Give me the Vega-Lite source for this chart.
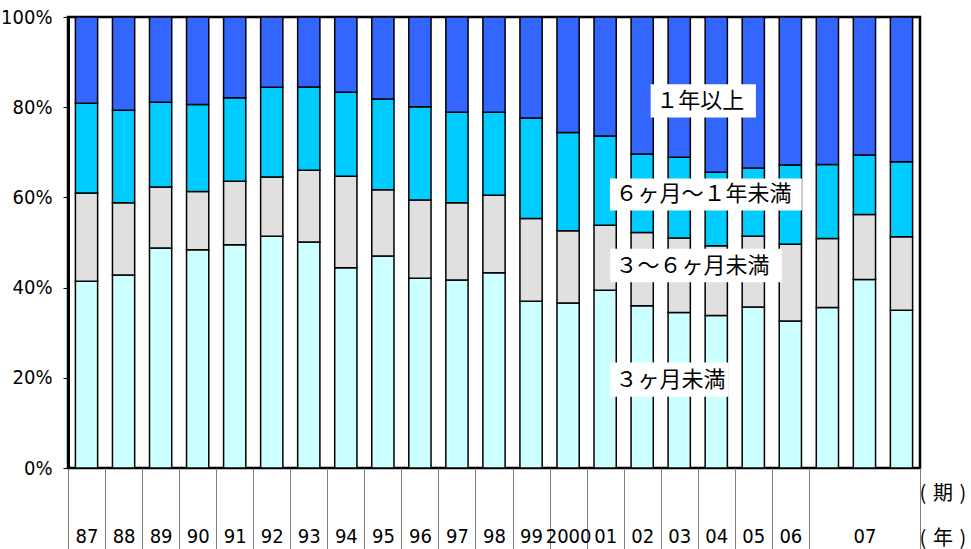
{
  "$schema": "https://vega.github.io/schema/vega-lite/v6.json",
  "width": 852,
  "height": 451,
  "autosize": {"type": "none"},
  "padding": {"left": 68, "top": 17, "right": 51, "bottom": 81},
  "background": "white",
  "config": {
    "view": {"stroke": "black", "strokeWidth": 2.5},
    "axis": {
      "labelFont": "'Liberation Sans Narrow', 'DejaVu Sans Condensed', 'Liberation Sans', sans-serif",
      "labelColor": "black",
      "labelFontSize": 20,
      "grid": false
    }
  },
  "datasets": {
    "duration": [
      {"period": "87", "s1_lt3m": 41.4, "s2_3to6m": 19.6, "s3_6mto1y": 19.9, "s4_ge1y": 19.1},
      {"period": "88", "s1_lt3m": 42.8, "s2_3to6m": 16.0, "s3_6mto1y": 20.5, "s4_ge1y": 20.7},
      {"period": "89", "s1_lt3m": 48.8, "s2_3to6m": 13.5, "s3_6mto1y": 18.8, "s4_ge1y": 18.9},
      {"period": "90", "s1_lt3m": 48.4, "s2_3to6m": 12.9, "s3_6mto1y": 19.3, "s4_ge1y": 19.4},
      {"period": "91", "s1_lt3m": 49.5, "s2_3to6m": 14.1, "s3_6mto1y": 18.5, "s4_ge1y": 17.9},
      {"period": "92", "s1_lt3m": 51.4, "s2_3to6m": 13.1, "s3_6mto1y": 19.9, "s4_ge1y": 15.6},
      {"period": "93", "s1_lt3m": 50.1, "s2_3to6m": 15.9, "s3_6mto1y": 18.5, "s4_ge1y": 15.5},
      {"period": "94", "s1_lt3m": 44.4, "s2_3to6m": 20.3, "s3_6mto1y": 18.6, "s4_ge1y": 16.7},
      {"period": "95", "s1_lt3m": 47.0, "s2_3to6m": 14.7, "s3_6mto1y": 20.1, "s4_ge1y": 18.2},
      {"period": "96", "s1_lt3m": 42.1, "s2_3to6m": 17.3, "s3_6mto1y": 20.7, "s4_ge1y": 19.9},
      {"period": "97", "s1_lt3m": 41.7, "s2_3to6m": 17.1, "s3_6mto1y": 20.1, "s4_ge1y": 21.1},
      {"period": "98", "s1_lt3m": 43.3, "s2_3to6m": 17.2, "s3_6mto1y": 18.4, "s4_ge1y": 21.1},
      {"period": "99", "s1_lt3m": 37.0, "s2_3to6m": 18.3, "s3_6mto1y": 22.3, "s4_ge1y": 22.4},
      {"period": "2000", "s1_lt3m": 36.6, "s2_3to6m": 16.0, "s3_6mto1y": 21.8, "s4_ge1y": 25.6},
      {"period": "01", "s1_lt3m": 39.4, "s2_3to6m": 14.4, "s3_6mto1y": 19.8, "s4_ge1y": 26.4},
      {"period": "02", "s1_lt3m": 36.0, "s2_3to6m": 16.2, "s3_6mto1y": 17.4, "s4_ge1y": 30.4},
      {"period": "03", "s1_lt3m": 34.5, "s2_3to6m": 16.5, "s3_6mto1y": 17.9, "s4_ge1y": 31.1},
      {"period": "04", "s1_lt3m": 33.8, "s2_3to6m": 15.5, "s3_6mto1y": 16.3, "s4_ge1y": 34.4},
      {"period": "05", "s1_lt3m": 35.7, "s2_3to6m": 15.7, "s3_6mto1y": 15.1, "s4_ge1y": 33.5},
      {"period": "06", "s1_lt3m": 32.6, "s2_3to6m": 17.0, "s3_6mto1y": 17.6, "s4_ge1y": 32.8},
      {"period": "07Q1", "s1_lt3m": 35.6, "s2_3to6m": 15.3, "s3_6mto1y": 16.4, "s4_ge1y": 32.7},
      {"period": "07Q2", "s1_lt3m": 41.8, "s2_3to6m": 14.4, "s3_6mto1y": 13.2, "s4_ge1y": 30.6},
      {"period": "07Q3", "s1_lt3m": 35.0, "s2_3to6m": 16.3, "s3_6mto1y": 16.6, "s4_ge1y": 32.1}
    ]
  },
  "layer": [
    {
      "data": {"name": "duration"},
      "transform": [
        {"fold": ["s1_lt3m", "s2_3to6m", "s3_6mto1y", "s4_ge1y"], "as": ["group", "share"]}
      ],
      "mark": {"type": "bar", "width": {"band": 0.6}, "stroke": "black", "strokeWidth": 1.5},
      "encoding": {
        "x": {
          "field": "period",
          "type": "nominal",
          "sort": null,
          "scale": {"paddingInner": 0, "paddingOuter": 0},
          "axis": {
            "domain": false,
            "tickBand": "extent",
            "tickSize": 90,
            "tickColor": "#7f7f7f",
            "tickWidth": 1,
            "tickOpacity": {
              "condition": {"test": "datum.value === '07Q1' || datum.value === '07Q2'", "value": 0},
              "value": 1
            },
            "labelAngle": 0,
            "labelBaseline": "alphabetic",
            "labelPadding": -16,
            "labelExpr": "datum.value === '07Q2' ? '07' : (datum.value === '07Q1' || datum.value === '07Q3') ? '' : datum.value",
            "title": ["(\u2004期\u2004)", "(\u2004年\u2004)"],
            "titleFont": "Noto Sans CJK JP",
            "titleFontSize": 20,
            "titleFontWeight": "normal",
            "titleColor": "black",
            "titleLineHeight": 45,
            "titleAlign": "left",
            "titleBaseline": "middle",
            "titleX": 851,
            "titleY": 25
          }
        },
        "y": {
          "field": "share",
          "type": "quantitative",
          "stack": "zero",
          "scale": {"domain": [0, 100], "nice": false},
          "axis": {
            "values": [0, 20, 40, 60, 80, 100],
            "labelExpr": "datum.value + '%'",
            "domain": true,
            "domainColor": "black",
            "domainWidth": 3,
            "tickColor": "black",
            "tickSize": 5,
            "tickWidth": 1,
            "labelPadding": 11,
            "title": null
          }
        },
        "color": {
          "field": "group",
          "type": "nominal",
          "scale": {
            "domain": ["s1_lt3m", "s2_3to6m", "s3_6mto1y", "s4_ge1y"],
            "range": ["#ccffff", "#e0e0e0", "#00ccff", "#3366ff"]
          },
          "legend": null
        },
        "order": {"field": "group", "type": "ordinal", "sort": "ascending"}
      }
    },
    {
      "data": {"values": [{}]},
      "layer": [
        {
          "mark": {"type": "rect", "fill": "white"},
          "encoding": {
            "x": {"datum": 15.73, "type": "quantitative", "scale": {"domain": [0, 23], "nice": false, "zero": false}, "axis": null},
            "x2": {"datum": 18.57},
            "y": {"datum": 85.1, "type": "quantitative"},
            "y2": {"datum": 77.7}
          }
        },
        {
          "mark": {"type": "text", "align": "left", "baseline": "middle", "font": "Noto Sans CJK JP", "fontSize": 22, "color": "black"},
          "encoding": {
            "x": {"datum": 15.88, "type": "quantitative"},
            "y": {"datum": 81.4, "type": "quantitative"},
            "text": {"value": "１年以上"}
          }
        },
        {
          "mark": {"type": "rect", "fill": "white"},
          "encoding": {
            "x": {"datum": 14.63, "type": "quantitative"},
            "x2": {"datum": 19.81},
            "y": {"datum": 64.2, "type": "quantitative"},
            "y2": {"datum": 57.1}
          }
        },
        {
          "mark": {"type": "text", "align": "left", "baseline": "middle", "font": "Noto Sans CJK JP", "fontSize": 22, "color": "black"},
          "encoding": {
            "x": {"datum": 14.78, "type": "quantitative"},
            "y": {"datum": 60.7, "type": "quantitative"},
            "text": {"value": "６ヶ月～１年未満"}
          }
        },
        {
          "mark": {"type": "rect", "fill": "white"},
          "encoding": {
            "x": {"datum": 14.64, "type": "quantitative"},
            "x2": {"datum": 19.27},
            "y": {"datum": 48.6, "type": "quantitative"},
            "y2": {"datum": 41.2}
          }
        },
        {
          "mark": {"type": "text", "align": "left", "baseline": "middle", "font": "Noto Sans CJK JP", "fontSize": 22, "color": "black"},
          "encoding": {
            "x": {"datum": 14.78, "type": "quantitative"},
            "y": {"datum": 44.9, "type": "quantitative"},
            "text": {"value": "３～６ヶ月未満"}
          }
        },
        {
          "mark": {"type": "rect", "fill": "white"},
          "encoding": {
            "x": {"datum": 14.64, "type": "quantitative"},
            "x2": {"datum": 17.83},
            "y": {"datum": 23.4, "type": "quantitative"},
            "y2": {"datum": 15.8}
          }
        },
        {
          "mark": {"type": "text", "align": "left", "baseline": "middle", "font": "Noto Sans CJK JP", "fontSize": 22, "color": "black"},
          "encoding": {
            "x": {"datum": 14.78, "type": "quantitative"},
            "y": {"datum": 19.6, "type": "quantitative"},
            "text": {"value": "３ヶ月未満"}
          }
        }
      ]
    }
  ],
  "resolve": {"scale": {"x": "independent"}, "axis": {"x": "independent"}}
}
